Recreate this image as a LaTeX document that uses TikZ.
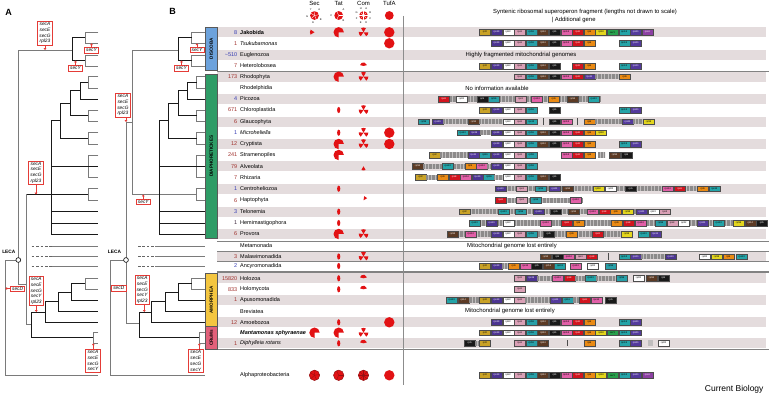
\documentclass[tikz,border=0pt]{standalone}
\usepackage{fontspec}
\setmainfont{Liberation Sans}
\usetikzlibrary{arrows.meta}
\definecolor{clrPie}{RGB}{226,18,20}
\definecolor{clrPieD}{RGB}{150,16,18}
\definecolor{clrRB}{RGB}{228,60,55}
\definecolor{clrSh}{RGB}{228,220,221}
\definecolor{clrSep}{RGB}{130,130,130}
\definecolor{cnB}{RGB}{52,58,178}
\definecolor{cnR}{RGB}{160,48,44}
\definecolor{cnK}{RGB}{60,40,60}
\definecolor{cDis}{RGB}{108,162,220}
\definecolor{cDia}{RGB}{46,156,102}
\definecolor{cAmo}{RGB}{244,198,64}
\definecolor{cCru}{RGB}{226,96,122}
\definecolor{cGap}{RGB}{192,190,190}
\definecolor{cGapS}{RGB}{140,138,138}
% gene colours, one per superoperon slot
\definecolor{cg1}{RGB}{201,162,39}
\definecolor{cg2}{RGB}{76,52,145}
\definecolor{cg3}{RGB}{255,255,255}
\definecolor{cg4}{RGB}{218,160,182}
\definecolor{cg5}{RGB}{40,160,168}
\definecolor{cg6}{RGB}{92,58,36}
\definecolor{cg7}{RGB}{25,25,25}
\definecolor{cg8}{RGB}{226,96,168}
\definecolor{cg9}{RGB}{210,20,30}
\definecolor{cg10}{RGB}{234,138,20}
\definecolor{cg11}{RGB}{228,214,30}
\definecolor{cg12}{RGB}{40,160,76}
\definecolor{cg13}{RGB}{36,164,168}
\definecolor{cg14}{RGB}{84,58,156}
\definecolor{cg15}{RGB}{140,64,162}
\colorlet{tc1}{black}\colorlet{tc2}{white}\colorlet{tc3}{black}
\colorlet{tc4}{black}\colorlet{tc5}{black}\colorlet{tc6}{white}
\colorlet{tc7}{white}\colorlet{tc8}{black}\colorlet{tc9}{white}
\colorlet{tc10}{black}\colorlet{tc11}{black}\colorlet{tc12}{black}
\colorlet{tc13}{black}\colorlet{tc14}{white}\colorlet{tc15}{white}
\newcommand{\genelab}[1]{\ifcase#1\or rpl2\or rps19\or rpl22\or rps3\or rpl16\or rpl14\or rpl5\or rps14\or rps8\or rpl6\or rpl18\or secY\or rps13\or rps11\or rpoA\fi}
\newcount\gcnt
\newcommand{\gfr}[3]{\global\advance\gcnt by 1
  \node[gbox,fill=cg#1,text=tc#1] (g\the\gcnt) at (#2,#3) {\genelab{#1}};}
\newcommand{\gsl}[2]{\gfr{#1}{{479.3+11.6*(#1-1)}}{#2}}
\newcommand{\gapbar}[3]{\fill[gapc] (#1,#3-2.7) rectangle (#2,#3+2.7); \draw[gaps] (#1,#3) -- (#2,#3);}
\newcommand{\sepbar}[2]{\draw[black!70,line width=0.4pt] (#1,#2-3.2) -- (#1,#2+3.2);}
\newcommand{\pieslice}[5]{\fill[pie] (#1,#2) -- ++(#3:#5) arc[start angle=#3,end angle=#4,radius=#5] -- cycle;}
\newcommand{\fullpie}[2]{\fill[pie] (#1,#2) circle[radius=5.2];}
\newcommand{\pacpie}[2]{\pieslice{#1}{#2}{90}{360}{5.2}}
\newcommand{\tatsm}[2]{\fill[pie] (#1,#2) ellipse[x radius=1.6,y radius=3.1];}
\newcommand{\comcl}[2]{\pieslice{#1}{#2}{-120}{-60}{4.8}\pieslice{#1}{#2}{0}{55}{4.8}\pieslice{#1}{#2}{125}{185}{4.8}}
\newcommand{\combar}[2]{\pieslice{#1}{#2}{-165}{-15}{3.6}}
\newcommand{\alphapie}[3]{\fill[pie] (#1,#2) circle[radius=5.2];
  \draw[draw=clrPieD,line width=0.5pt] (#1,#2) circle[radius=5.2];
  \foreach \a in {#3} {\draw[draw=clrPieD,line width=0.35pt] (#1,#2) -- ++(\a:5.2);}}
\newcommand{\hdrpie}[3]{\fill[pie] (#1,#2) circle[radius=4.4];
  \foreach \a in {#3} {\draw[white,line width=0.35pt] (#1,#2) -- ++(\a:4.4);}}

\begin{document}
\begin{tikzpicture}[x=1pt,y=-1pt,font=\fontsize{5.5}{6.5}\selectfont,
  tb/.style={draw=black!90,line width=0.85pt},
  tg/.style={draw=black!52,line width=0.85pt},
  tdash/.style={draw=black!60,line width=0.85pt,dash pattern=on 2.6pt off 1.8pt},
  gbox/.style={draw=black!70,line width=0.25pt,anchor=west,minimum width=11pt,minimum height=5.6pt,inner sep=0pt,font=\fontsize{2.4}{2.6}\selectfont},
  gapc/.style={fill=cGap},
  gaps/.style={draw=cGapS,line width=5.4pt,dash pattern=on 0.5pt off 0.9pt},
  pie/.style={fill=clrPie},
  redbox/.style={draw=clrRB,line width=0.6pt,fill=white,inner xsep=1.6pt,inner ysep=1pt,align=center,font=\fontsize{4.8}{5.8}\selectfont\itshape},
  redarr/.style={draw=clrRB,line width=0.5pt,-{Triangle[length=1.8pt,width=2.6pt]}},
  grp/.style={rotate=90,draw=black!65,line width=0.5pt,minimum height=12.2pt,inner sep=0pt,font=\fontsize{4.6}{5}\selectfont\bfseries},
  leca/.style={circle,draw=black,line width=0.6pt,fill=white,minimum size=4.8pt,inner sep=0pt},
  lecalab/.style={font=\fontsize{4.8}{5}\selectfont\bfseries,inner sep=0pt},
  numlab/.style={anchor=east,inner sep=0pt},
  taxlab/.style={anchor=west,inner sep=0pt},
  note/.style={font=\fontsize{5.9}{7}\selectfont,inner sep=0pt},
  hdl/.style={font=\fontsize{2.6}{3}\selectfont,inner sep=0pt},
  sepln/.style={draw=clrSep,line width=0.7pt}]
  \useasboundingbox (0,0) rectangle (769,395);

  % shaded rows
  \foreach \y in {32.3,55,76.7,99,121.7,144,166.3,188.7,211.7,234,256.5,278.3,300,322.3,343.3}
    {\fill[clrSh] (217,\y-4.9) rectangle (766,\y+4.9);}
  \foreach \y in {71.5,241,251.3,261.3,271,272.6,349.3} {\draw[sepln] (217,\y) -- (769,\y);}
  \draw[draw=black!45,line width=0.8pt] (403,16) -- (403,385);

  % panel letters and headers
  \node[font=\fontsize{9}{10}\selectfont\bfseries] (pA) at (8.5,12) {A};
  \node[font=\fontsize{9}{10}\selectfont\bfseries] (pB) at (172.7,11.5) {B};
  \node[font=\fontsize{6}{7}\selectfont] (hSec) at (314.5,3.8) {Sec};
  \node[font=\fontsize{6}{7}\selectfont] (hTat) at (338.7,3.8) {Tat};
  \node[font=\fontsize{6}{7}\selectfont] (hCom) at (363.5,3.8) {Com};
  \node[font=\fontsize{6}{7}\selectfont] (hTuf) at (389.3,3.8) {TufA};
  \hdrpie{314.5}{15.5}{-85,-10,65,137,212}
  \foreach \a/\l in {-120/Y,-50/A,30/B,100/E,175/G} {\path (314.5,15.5) ++(\a:7.3) node[hdl] (hs\l) {\l};}
  \hdrpie{338.7}{15.5}{-115,0,115}
  \foreach \a/\l in {-50/A,50/B,180/C} {\path (338.7,15.5) ++(\a:7.3) node[hdl] (ht\l) {\l};}
  \hdrpie{363.5}{15.5}{-90,-45,0,45,90,135,180,225}
  \foreach \a/\l in {-67.5/A,-22.5/B,22.5/C,67.5/D,112.5/E,157.5/F,202.5/G,247.5/H} {\path (363.5,15.5) ++(\a:7.3) node[hdl] (hc\l) {\l};}
  \fill[pie] (389.3,15.5) circle[radius=4.4];
  \node[note,anchor=center] (hdr1) at (585,12) {Syntenic ribosomal superoperon fragment (lengths not drawn to scale)};
  \node[note,anchor=west] (hdr2) at (551.5,19.6) {| Additional gene};

  % panel A tree
  \draw[tg] (98.3,32.3) -| (85,43.3) -- (98.3,43.3);
  \draw[tg] (98.3,55) -| (85,66) -- (98.3,66);
  \draw[tb] (85,37.8) -| (72,60.5) -- (85,60.5);
  \draw[tg] (72,50) -- (18.3,50) -- (18.3,284.3) -- (26,284.3);
  \draw[tg] (98.3,76.7) -| (88.3,88) -- (98.3,88);
  \draw[tb] (88.3,82.3) -| (80,99) -- (98.3,99);
  \draw[tg] (98.3,110) -| (88.3,121.7) -- (98.3,121.7);
  \draw[tb] (80,90.7) -| (70,115.8) -- (88.3,115.8);
  \draw[tg] (98.3,132.7) -| (88.3,144) -- (98.3,144);
  \draw[tb] (70,103.2) -| (60,138.3) -- (88.3,138.3);
  \draw[tb] (60,120.8) -| (51.7,234) -- (98.3,234);
  \draw[tg] (98.3,155) -| (88.3,177.3) -- (98.3,177.3);
  \draw[tb] (51.7,166.3) -- (98.3,166.3);
  \draw[tg] (98.3,188.7) -| (88.3,200.3) -- (98.3,200.3);
  \draw[tb] (26,194.5) -- (88.3,194.5);
  \draw[tb] (51.7,211.7) -- (98.3,211.7);
  \draw[tb] (51.7,223) -- (98.3,223);
  \draw[tg] (26,194.5) -- (26,324) -- (31.7,324);
  \foreach \y in {246,256.5,266} {\draw[tdash] (31.7,\y) -- (51.7,\y); \draw[tg] (51.7,\y) -- (98.3,\y);}
  \draw[tg] (98.3,278.3) -| (85,289.3) -- (98.3,289.3);
  \draw[tb] (85,283.8) -| (71.7,300) -- (98.3,300);
  \draw[tb] (71.7,292) -| (58.3,311.3) -- (98.3,311.3);
  \draw[tb] (58.3,301.7) -| (45,322.3) -- (98.3,322.3);
  \draw[tb] (45,312) -| (31.7,337.5) -- (93.3,337.5);
  \draw[tg] (98.3,332.7) -| (93.3,343.3) -- (98.3,343.3);
  \draw[tg] (18.3,260) -- (5.3,260) -- (5.3,375.3) -- (98.3,375.3);
  \node[leca] (lecaA) at (18.3,260) {};
  \node[lecalab] (lecaAl) at (8.8,252.3) {LECA};

  % panel B tree
  \draw[tg] (205,32.3) -| (191.7,43.3) -- (205,43.3);
  \draw[tg] (205,55) -| (191.7,66) -- (205,66);
  \draw[tb] (191.7,37.8) -| (178.3,60.5) -- (191.7,60.5);
  \draw[tg] (178.3,50) -| (132.3,194.5) -- (196.7,194.5);
  \draw[tg] (132.3,122) -- (126,122) -- (126,323.3) -- (139.3,323.3);
  \draw[tg] (205,76.7) -| (196.7,88) -- (205,88);
  \draw[tb] (196.7,82.3) -| (187.3,99) -- (205,99);
  \draw[tg] (205,110) -| (196.7,121.7) -- (205,121.7);
  \draw[tb] (187.3,90.7) -| (178,115.8) -- (196.7,115.8);
  \draw[tg] (205,132.7) -| (196.7,144) -- (205,144);
  \draw[tb] (178,103.2) -| (168.3,138.3) -- (196.7,138.3);
  \draw[tb] (168.3,120.8) -| (159.3,234) -- (205,234);
  \draw[tg] (205,155) -| (196.7,177.3) -- (205,177.3);
  \draw[tb] (159.3,166.3) -- (205,166.3);
  \draw[tg] (205,188.7) -| (196.7,200.3) -- (205,200.3);
  \draw[tb] (159.3,211.7) -- (205,211.7);
  \draw[tb] (159.3,223) -- (205,223);
  \foreach \y in {246,256.5,266} {\draw[tdash] (138,\y) -- (155,\y); \draw[tg] (155,\y) -- (205,\y);}
  \draw[tg] (205,278.3) -| (191.7,289.3) -- (205,289.3);
  \draw[tb] (191.7,283.8) -| (178.3,300) -- (205,300);
  \draw[tb] (178.3,292) -| (165,311.3) -- (205,311.3);
  \draw[tb] (165,301.7) -| (151.7,322.3) -- (205,322.3);
  \draw[tb] (151.7,312) -| (139.3,337.5) -- (199.3,337.5);
  \draw[tg] (205,332.7) -| (199.3,343.3) -- (205,343.3);
  \draw[tg] (126,260) -- (110,260) -- (110,375.3) -- (205,375.3);
  \node[leca] (lecaB) at (126,260) {};
  \node[lecalab] (lecaBl) at (114.5,252.3) {LECA};

  % gene gain/loss boxes
  \node[redbox] (bA1) at (45,33) {secA\\secE\\secG\\rpl23};
  \node[redbox] (bA2) at (91.5,50.3) {secY};
  \node[redbox] (bA3) at (75.5,68.2) {secY};
  \node[redbox] (bA4) at (36,172.7) {secA\\secE\\secG\\rpl23};
  \node[redbox] (bA5) at (17.6,288.5) {secD};
  \node[redbox] (bA6) at (36.3,291) {secA\\secE\\secG\\secY\\rpl23};
  \node[redbox] (bA7) at (93,360.5) {secA\\secE\\secG\\secY};
  \coordinate (tA1) at (45,50);
  \coordinate (tA2) at (91.5,43.3);
  \coordinate (tA3) at (75.5,60.5);
  \coordinate (tA4) at (36,194.5);
  \coordinate (tA5) at (5.3,288.5);
  \coordinate (tA6) at (36.3,312);
  \coordinate (tA7) at (93.3,343.3);
  \draw[redarr] (bA1.south -| tA1) -- (tA1);
  \draw[redarr] (bA2.north -| tA2) -- (tA2);
  \draw[redarr] (bA3.north -| tA3) -- (tA3);
  \draw[redarr] (bA4.south -| tA4) -- (tA4);
  \draw[redarr] (bA5.west) -- (tA5);
  \draw[redarr] (bA6.south -| tA6) -- (tA6);
  \draw[redarr] (bA7.north -| tA7) -- (tA7);
  \node[redbox] (bB1) at (197,50) {secY};
  \node[redbox] (bB2) at (181.5,68.3) {secY};
  \node[redbox] (bB3) at (122.9,105) {secA\\secE\\secG\\rpl23};
  \node[redbox] (bB4) at (143.3,201.7) {secY};
  \node[redbox] (bB5) at (118.8,288.2) {secD};
  \node[redbox] (bB6) at (142.2,290) {secA\\secE\\secG\\secY\\rpl23};
  \node[redbox] (bB7) at (195.8,361) {secA\\secE\\secG\\secY};
  \coordinate (tB1) at (197,43.3);
  \coordinate (tB2) at (181.5,60.5);
  \coordinate (tB3) at (126,122);
  \coordinate (tB4) at (143.3,194.5);
  \coordinate (tB5) at (110,288.2);
  \coordinate (tB6) at (144.3,312);
  \coordinate (tB7) at (199.3,343.3);
  \draw[redarr] (bB1.north -| tB1) -- (tB1);
  \draw[redarr] (bB2.north -| tB2) -- (tB2);
  \draw[redarr] (bB3.south -| tB3) -- (tB3);
  \draw[redarr] (bB4.north -| tB4) -- (tB4);
  \draw[redarr] (bB5.west) -- (tB5);
  \draw[redarr] (bB6.south -| tB6) -- (tB6);
  \draw[redarr] (bB7.north -| tB7) -- (tB7);

  % supergroup bars
  \node[grp,fill=cDis,minimum width=42.7pt] (grpDis) at (211.3,48.7) {DISCOBA};
  \node[grp,fill=cDia,minimum width=164.3pt] (grpDia) at (211.3,156.2) {DIAPHORETICKES};
  \node[grp,fill=cAmo,minimum width=53.4pt] (grpAmo) at (211.3,300) {AMORPHEA};
  \node[grp,fill=cCru,minimum width=22.6pt] (grpCru) at (211.3,338) {CRuMs};

  % taxa: genome counts and names
  \foreach \y/\n/\c/\lab [count=\i] in {%
    32.3/8/cnB/{\textbf{Jakobida}},
    43.3/1/cnR/{\textit{Tsukubamonas}},
    55/{\textasciitilde510}/cnB/Euglenozoa,
    66/7/cnR/Heterolobosea,
    76.7/173/cnR/Rhodophyta,
    88/{}/cnR/Rhodelphidia,
    99/4/cnB/Picozoa,
    110/671/cnR/Chloroplastida,
    121.7/6/cnR/Glaucophyta,
    132.7/1/cnB/{\textit{Microheliella}},
    144/12/cnR/Cryptista,
    155/241/cnR/Stramenopiles,
    166.3/79/cnR/Alveolata,
    177.3/7/cnR/Rhizaria,
    188.7/1/cnB/Centroheliozoa,
    200.3/6/cnR/Haptophyta,
    211.7/3/cnB/Telonemia,
    223/1/cnK/Hemimastigophora,
    234/6/cnR/Provora,
    246/{}/cnR/Metamonada,
    256.5/3/cnR/Malawimonadida,
    266/2/cnB/Ancyromonadida,
    278.3/15820/cnR/Holozoa,
    289.3/833/cnR/Holomycota,
    300/1/cnR/Apusomonadida,
    311.3/{}/cnR/Breviatea,
    322.3/12/cnR/Amoebozoa,
    332.7/{}/cnR/{\textbf{\textit{Mantamonas sphyraenae}}},
    343.3/1/cnR/{\textit{Diphylleia rotans}},
    375.3/{}/cnR/Alphaproteobacteria}{
      \node[numlab,text=\c] (num\i) at (237.5,\y) {\n};
      \node[taxlab] (tax\i) at (240,\y) {\lab};
  }

  % Sec / Tat / Com / TufA
  \pieslice{314.5}{32.3}{150}{215}{4.6} \pacpie{338.7}{32.3} \comcl{363.5}{32.3} \fullpie{389.3}{32.3}
  \fullpie{389.3}{43.3}
  \combar{363.5}{66}
  \pacpie{338.7}{76.7} \comcl{363.5}{76.7}
  \tatsm{338.7}{110} \comcl{363.5}{110}
  \tatsm{338.7}{132.7} \comcl{363.5}{132.7} \fullpie{389.3}{132.7}
  \pacpie{338.7}{144} \comcl{363.5}{144} \fullpie{389.3}{144}
  \pacpie{338.7}{155}
  \pieslice{363.5}{166.3}{60}{120}{4.2}
  \tatsm{338.7}{188.7}
  \pieslice{363.5}{200.3}{-80}{-30}{4.2}
  \tatsm{338.7}{211.7}
  \tatsm{338.7}{223}
  \pacpie{338.7}{234} \comcl{363.5}{234}
  \tatsm{338.7}{256.5} \comcl{363.5}{256.5}
  \tatsm{338.7}{266}
  \tatsm{338.7}{278.3} \combar{363.5}{278.3}
  \tatsm{338.7}{289.3} \combar{363.5}{289.3}
  \tatsm{338.7}{322.3} \fullpie{389.3}{322.3}
  \pacpie{314.5}{332.7} \pacpie{338.7}{332.7} \comcl{363.5}{332.7}
  \tatsm{338.7}{343.3} \combar{363.5}{343.3}
  \alphapie{314.5}{375.3}{-85,-10,65,137,212}
  \alphapie{338.7}{375.3}{-115,0,115}
  \alphapie{363.5}{375.3}{-90,-45,0,45,90,135,180,225}
  \fullpie{389.3}{375.3}

  % superoperon fragments
  \foreach \k in {1,...,15} {\gsl{\k}{32.3}}
  \foreach \k in {2,...,10,13,14} {\gsl{\k}{43.3}}
  \node[note] (t55) at (521,55) {Highly fragmented mitochondrial genomes};
  \foreach \k in {1,...,7,9,10,13,14} {\gsl{\k}{66}}
  \foreach \k in {4,...,9} {\gsl{\k}{76.7}}
  \gfr{14}{583.7}{76.7} \gapbar{594.7}{619}{76.7} \gfr{10}{619}{76.7}
  \node[note] (t88) at (497,88) {No information available};
  \gapbar{440}{600}{99}
  \gfr{9}{438}{99} \gfr{3}{456}{99} \gfr{7}{476.5}{99} \gfr{5}{488.1}{99} \gfr{4}{515}{99}
  \gfr{8}{531}{99} \gfr{10}{548}{99} \gfr{6}{567}{99} \gfr{13}{588}{99}
  \foreach \k in {1,...,5,7,...,10,13,14} {\gsl{\k}{110}}
  \gfr{5}{418}{121.7} \gfr{2}{432}{121.7} \gapbar{443}{468}{121.7} \gfr{6}{468}{121.7}
  \gapbar{479}{502.5}{121.7} \gfr{3}{502.5}{121.7} \gfr{4}{514.1}{121.7} \gfr{13}{525.7}{121.7}
  \sepbar{543.5}{121.7} \gfr{7}{548.9}{121.7} \gfr{8}{560.5}{121.7} \sepbar{577}{121.7}
  \gfr{10}{583.7}{121.7} \gapbar{594.7}{622}{121.7} \gfr{14}{622}{121.7}
  \gapbar{633}{643}{121.7} \gfr{11}{643}{121.7}
  \gfr{13}{457}{132.7} \gfr{2}{468.6}{132.7} \gapbar{479.6}{491}{132.7}
  \foreach \k in {2,...,11} {\gsl{\k}{132.7}}
  \foreach \k in {2,...,10,13,14} {\gsl{\k}{144}}
  \gfr{1}{429}{155} \gapbar{440}{467.7}{155} \gfr{14}{467.7}{155} \gfr{5}{479.3}{155}
  \foreach \k in {2,...,5,8,9,10} {\gsl{\k}{155}}
  \gapbar{598}{605}{155} \gfr{6}{609}{155} \gfr{7}{620.6}{155}
  \gfr{6}{412}{166.3} \gapbar{423}{464.5}{166.3} \gfr{13}{442}{166.3} \gfr{10}{464.5}{166.3}
  \gfr{8}{476}{166.3} \gapbar{487}{491}{166.3}
  \foreach \k in {2,...,5} {\gsl{\k}{166.3}}
  \gfr{1}{415}{177.3} \gapbar{426}{437}{177.3} \gfr{10}{437}{177.3} \gfr{9}{448.6}{177.3}
  \gfr{8}{460.2}{177.3} \gfr{2}{471.8}{177.3} \gfr{5}{483.4}{177.3} \gapbar{494.4}{502.5}{177.3}
  \foreach \k in {3,...,7} {\gsl{\k}{177.3}}
  \gapbar{495}{720}{188.7}
  \gfr{2}{495}{188.7} \gfr{4}{516}{188.7} \gfr{5}{535}{188.7} \gfr{14}{549}{188.7} \gfr{6}{562}{188.7}
  \gfr{11}{592.5}{188.7} \gfr{3}{605}{188.7} \gfr{7}{625}{188.7} \gfr{8}{662}{188.7}
  \gfr{9}{674}{188.7} \gfr{10}{697}{188.7} \gfr{13}{708.6}{188.7}
  \gapbar{495}{583}{200.3}
  \gfr{9}{495}{200.3} \gfr{4}{516}{200.3} \gfr{5}{530}{200.3} \gfr{8}{570}{200.3}
  \gapbar{459}{660}{211.7}
  \gfr{1}{459}{211.7} \gfr{13}{498}{211.7} \gfr{5}{515}{211.7} \gfr{2}{533}{211.7} \gfr{7}{550}{211.7}
  \gfr{6}{568}{211.7} \gfr{8}{587}{211.7} \gfr{9}{598.6}{211.7} \gfr{10}{610.2}{211.7}
  \gfr{11}{622}{211.7} \gfr{14}{636}{211.7} \gfr{3}{647.6}{211.7} \gfr{4}{659.2}{211.7}
  \gapbar{469}{767}{223}
  \gfr{13}{469}{223} \gfr{2}{486}{223} \gfr{3}{502.5}{223} \gfr{8}{540}{223} \gfr{9}{561}{223}
  \gfr{10}{572.6}{223} \gfr{10}{611}{223} \gfr{9}{622.6}{223} \gfr{8}{635}{223} \gfr{5}{655}{223}
  \gfr{4}{666.6}{223} \gfr{3}{678.2}{223} \gfr{14}{697}{223} \gfr{13}{713}{223} \gfr{11}{733}{223}
  \gfr{6}{744.6}{223} \gfr{7}{756.2}{223}
  \gapbar{447}{621}{234}
  \gfr{6}{447}{234} \gfr{8}{465}{234}
  \foreach \k in {2,...,5} {\gsl{\k}{234}}
  \gfr{7}{543}{234} \gfr{10}{566}{234} \gfr{9}{592}{234} \gfr{11}{621}{234} \gfr{13}{638}{234} \gfr{14}{649.6}{234}
  \node[note] (t246) at (512,246) {Mitochondrial genome lost entirely};
  \gfr{6}{540}{256.5} \gfr{7}{551.6}{256.5} \gfr{8}{563.2}{256.5} \gfr{4}{574.8}{256.5} \gfr{9}{586.4}{256.5}
  \sepbar{608}{256.5} \gsl{13}{256.5} \gsl{14}{256.5} \gapbar{641}{665}{256.5} \gfr{2}{665}{256.5}
  \gfr{3}{699}{256.5} \gfr{11}{711}{256.5} \gfr{10}{722.6}{256.5} \gfr{13}{736}{256.5}
  \gsl{1}{266} \gsl{2}{266} \gapbar{502}{508}{266} \gfr{10}{508}{266} \gfr{8}{519.6}{266}
  \gfr{7}{531.2}{266} \gfr{6}{542.8}{266} \gfr{13}{554.4}{266} \gfr{8}{570}{266} \gfr{3}{587}{266} \gfr{5}{605}{266}
  \gsl{4}{278.3} \gfr{2}{525.7}{278.3} \gapbar{536.7}{552}{278.3} \gfr{8}{552}{278.3} \gfr{9}{563.6}{278.3}
  \gapbar{574.6}{585}{278.3} \gfr{13}{585}{278.3} \gapbar{596}{616}{278.3} \gfr{5}{616}{278.3}
  \gfr{3}{633}{278.3} \gfr{6}{646}{278.3} \gfr{7}{657.6}{278.3}
  \gsl{4}{289.3}
  \gfr{13}{446}{300} \gfr{6}{457.6}{300} \gapbar{468.6}{479.3}{300}
  \foreach \k in {1,...,4} {\gsl{\k}{300}}
  \gapbar{525}{550}{300} \gfr{14}{550}{300} \gfr{5}{561.6}{300} \gapbar{572.6}{579}{300}
  \gfr{9}{579}{300} \gfr{8}{590.6}{300} \gfr{7}{605}{300}
  \node[note] (t311) at (510,311.3) {Mitochondrial genome lost entirely};
  \foreach \k in {2,...,10,13,14} {\gsl{\k}{322.3}}
  \foreach \k in {1,...,14} {\gsl{\k}{332.7}}
  \gfr{7}{464}{343.3} \gapbar{475}{479.3}{343.3}
  \foreach \k in {1,4,5,6,10,13,14} {\gsl{\k}{343.3}}
  \sepbar{567}{343.3}
  \fill[gapc] (648,340.5) rectangle (653,346.1);
  \gfr{3}{658}{343.3}
  \foreach \k in {1,...,15} {\gsl{\k}{375.3}}

  \node[font=\fontsize{8.5}{10}\selectfont,anchor=east] (journal) at (767,389) {Current Biology};
\end{tikzpicture}
\end{document}
